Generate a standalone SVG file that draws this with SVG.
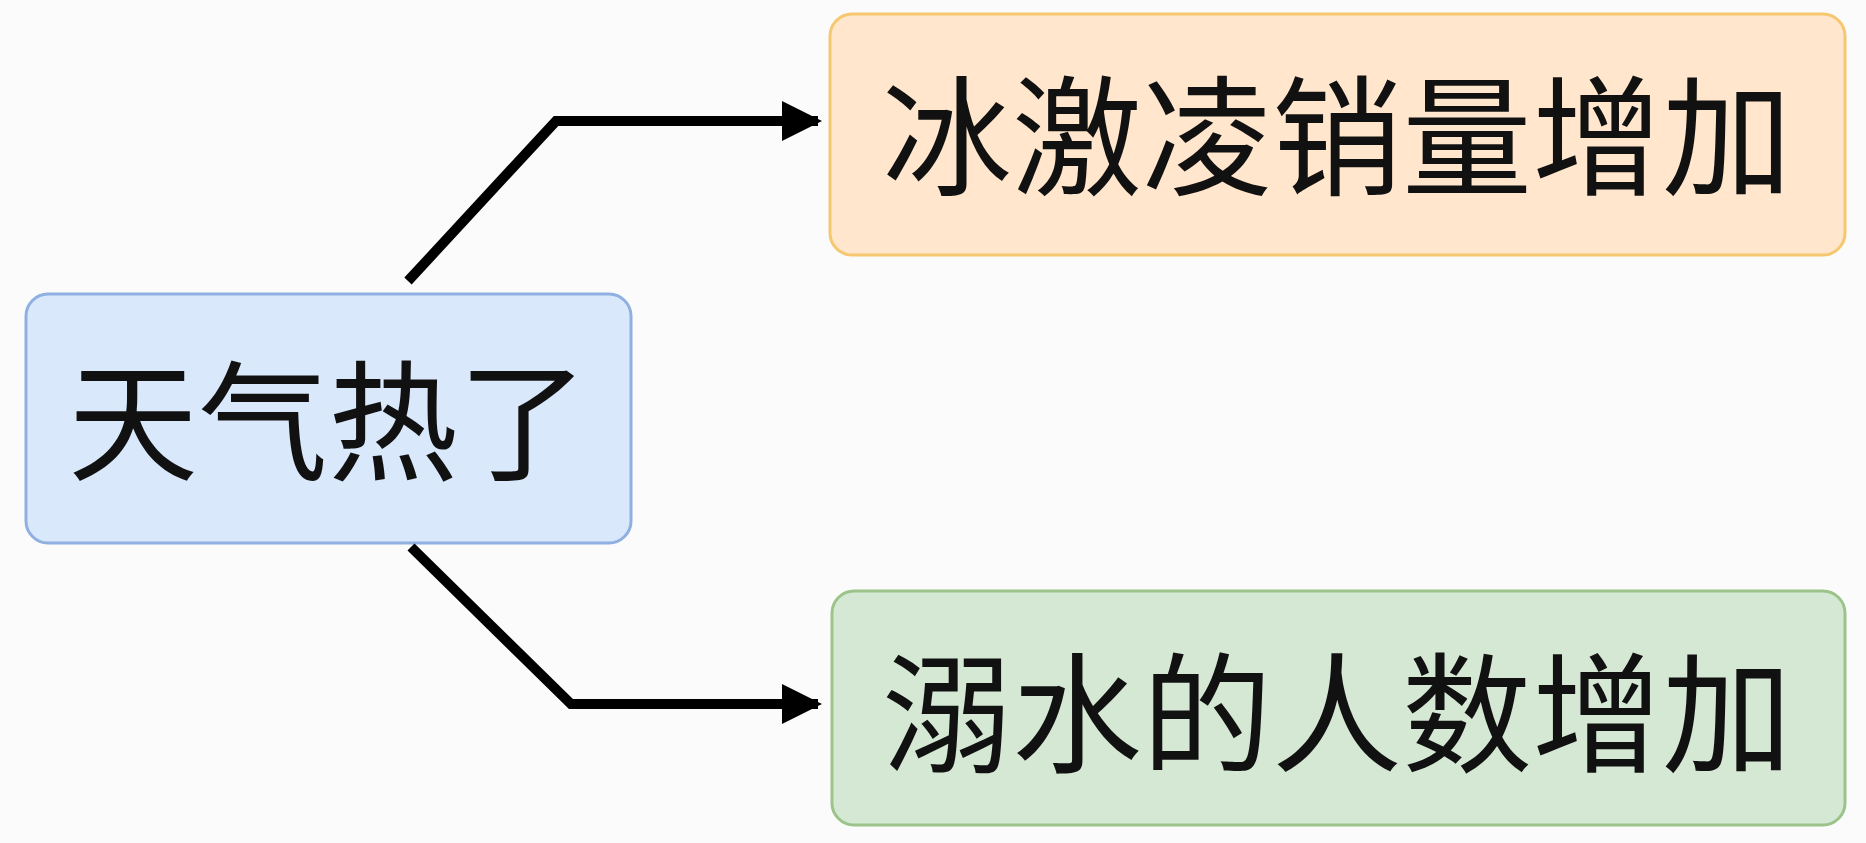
<svg xmlns="http://www.w3.org/2000/svg" width="1866" height="843" viewBox="0 0 1866 843">
<style>
.t{font-family:"Noto Sans CJK SC","Noto Sans",sans-serif;font-size:130px;fill:#111;text-anchor:middle;dominant-baseline:central}
.c{fill:none;stroke:#000;stroke-width:10;stroke-linejoin:miter}
</style>
<defs><marker id="a" viewBox="0 0 10 10" refX="9" refY="5" markerWidth="4" markerHeight="4" orient="auto" markerUnits="strokeWidth"><path d="M0,0L10,5L0,10z" fill="#000"/></marker></defs>
<rect width="1866" height="843" fill="#fbfbfb"/>
<g id="n1"><rect x="26" y="294" width="605" height="249" rx="22" fill="#dae8fc" stroke="#8fb0e0" stroke-width="3"/><text class="t" x="328" y="413">天气热了</text></g>
<g id="n2"><rect x="830" y="14" width="1015" height="241" rx="22" fill="#ffe6cc" stroke="#f5c870" stroke-width="3"/><text class="t" x="1337" y="128">冰激凌销量增加</text></g>
<g id="n3"><rect x="832" y="591" width="1013" height="234" rx="22" fill="#d5e8d4" stroke="#9cc48a" stroke-width="3"/><text class="t" x="1337" y="705">溺水的人数增加</text></g>
<g id="edges">
<path class="c" d="M408,281L556,121H818" marker-end="url(#a)"/>
<path class="c" d="M411,547L571,704H818" marker-end="url(#a)"/>
</g>
</svg>
